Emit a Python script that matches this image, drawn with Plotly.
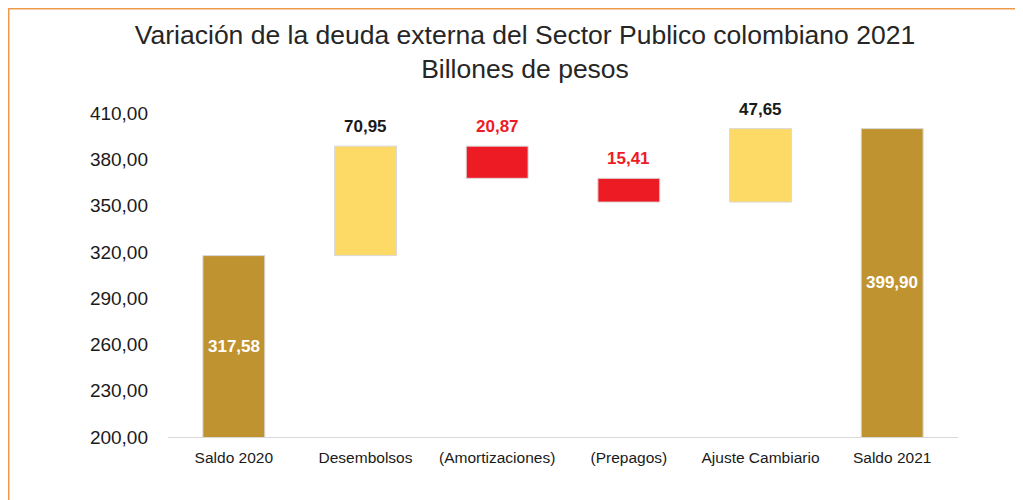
import plotly.graph_objects as go

# datos (billones de pesos)
categorias = ["Saldo 2020", "Desembolsos", "(Amortizaciones)", "(Prepagos)", "Ajuste Cambiario", "Saldo 2021"]
valores = [317.58, 70.95, -20.87, -15.41, 47.65, 399.90]
tipo = ["total", "sube", "baja", "baja", "sube", "total"]

colores = {"total": "#BF9330", "sube": "#FDD966", "baja": "#ED1C24"}
color_texto = {"total": "white", "sube": "#1a1a1a", "baja": "#ED1C24"}

# base y altura de cada barra
bases = []
alturas = []
acum = 0
for v, t in zip(valores, tipo):
    if t == "total":
        bases.append(0)
        alturas.append(v)
        acum = v
    elif v >= 0:
        bases.append(acum)
        alturas.append(v)
        acum += v
    else:
        acum += v
        bases.append(acum)
        alturas.append(-v)

fig = go.Figure()
fig.add_trace(go.Bar(
    x=categorias, y=alturas, base=bases,
    marker=dict(color=[colores[t] for t in tipo], line=dict(color="#d9d9d9", width=1)),
    width=0.47, hoverinfo="skip",
))

fuente = "Liberation Sans, Arial"
for c, v, b, h, t in zip(categorias, valores, bases, alturas, tipo):
    txt = "<b>" + f"{abs(v):.2f}".replace(".", ",") + "</b>"
    if t == "total":
        # centro de la parte visible de la barra
        fig.add_annotation(x=c, y=(200 + b + h) / 2, text=txt, showarrow=False, yanchor="middle",
                           font=dict(size=17, color=color_texto[t], family=fuente))
    else:
        fig.add_annotation(x=c, y=b + h, text=txt, showarrow=False, yanchor="bottom", yshift=8,
                           font=dict(size=17, color=color_texto[t], family=fuente))

fig.update_layout(
    width=1023, height=500,
    margin=dict(l=160, r=73, t=105, b=71),
    paper_bgcolor="white", plot_bgcolor="white",
    separators=",.",
    font=dict(family=fuente, color="#1a1a1a"),
    title=dict(text="Variación de la deuda externa del Sector Publico colombiano 2021<br>Billones de pesos",
               x=517 / 1023, xanchor="center", y=1 - 36 / 500, yanchor="middle",
               font=dict(size=26.5, color="#262626")),
    showlegend=False,
)
fig.update_yaxes(range=[200, 410], tickvals=[200, 230, 260, 290, 320, 350, 380, 410],
                 tickformat=".2f", showgrid=False, zeroline=False, showline=False,
                 tickfont=dict(size=19, color="#1a1a1a"), ticklabelstandoff=19)
fig.update_xaxes(showline=True, linecolor="#d9d9d9", linewidth=1, showgrid=False,
                 tickfont=dict(size=15.5, color="#1a1a1a"), ticklabelstandoff=6)

# borde naranja del cuadro (bordes superior e izquierdo de la figura)
fig.add_shape(type="line", xref="paper", yref="paper", x0=-160 / 790, x1=1.2,
              y0=(429 - 0.75) / 324, y1=(429 - 0.75) / 324, line=dict(color="#ED9A4C", width=1.5))
fig.add_shape(type="line", xref="paper", yref="paper", x0=(0.75 - 160) / 790, x1=(0.75 - 160) / 790,
              y0=429 / 324, y1=-0.3, line=dict(color="#ED9A4C", width=1.5))

fig.write_html("out.html")
